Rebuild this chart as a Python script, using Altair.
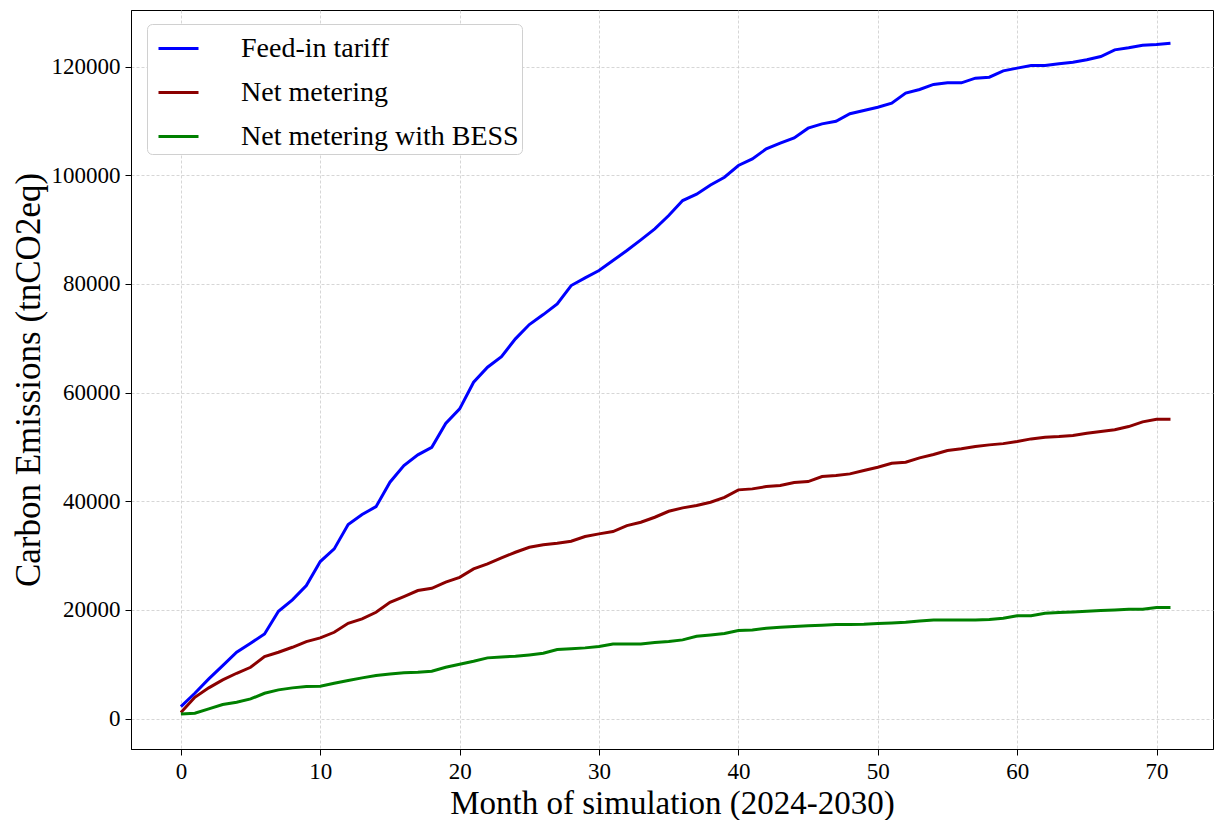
import altair as alt
import pandas as pd

# Cumulative carbon emissions per month of simulation, by compensation scheme
months = list(range(72))

feed_in_tariff = [
    2200, 4660, 7300, 9750, 12200, 13870, 15580, 19750, 21840, 24480,
    28900, 31230, 35700, 37550, 39000, 43500, 46560, 48530, 49930, 54300,
    57000, 61900, 64660, 66620, 69880, 72510, 74350, 76320, 79690, 81110,
    82450, 84300, 86130, 88100, 90130, 92580, 95340, 96500, 98200, 99630,
    101780, 103000, 104850, 105900, 106870, 108650, 109450, 109930, 111300, 111900,
    112500, 113250, 115100, 115770, 116700, 117000, 117000, 117850, 118030, 119200,
    119700, 120180, 120180, 120490, 120800, 121230, 121840, 123070, 123440, 123920,
    124050, 124290,
]

net_metering = [
    1100, 3920, 5650, 7120, 8340, 9440, 11410, 12200, 13120, 14170,
    14850, 15880, 17540, 18350, 19560, 21400, 22450, 23560, 23980, 25100,
    26000, 27550, 28470, 29570, 30610, 31530, 31970, 32270, 32630, 33500,
    33990, 34420, 35520, 36130, 37050, 38150, 38780, 39200, 39810, 40700,
    42090, 42270, 42700, 42880, 43430, 43620, 44540, 44720, 45030, 45640,
    46250, 46990, 47170, 47980, 48590, 49330, 49640, 50060, 50370, 50600,
    51000, 51470, 51780, 51900, 52090, 52510, 52820, 53140, 53740, 54600,
    55090, 55090,
]

net_metering_bess = [
    860, 980, 1780, 2580, 3000, 3620, 4660, 5280, 5650, 5890,
    5950, 6500, 6990, 7490, 7910, 8220, 8410, 8530, 8710, 9450,
    10000, 10550, 11170, 11350, 11470, 11720, 12020, 12700, 12830, 13010,
    13250, 13740, 13740, 13740, 13990, 14170, 14480, 15150, 15400, 15640,
    16220, 16320, 16620, 16800, 16930, 17060, 17180, 17300, 17300, 17360,
    17480, 17600, 17730, 17970, 18160, 18160, 18160, 18160, 18250, 18460,
    18930, 18930, 19380, 19500, 19630, 19750, 19870, 20000, 20120, 20120,
    20460, 20460,
]

series_names = ["Feed-in tariff", "Net metering", "Net metering with BESS"]
series_colors = ["#0000ff", "#8b0000", "#008000"]
x_ticks = [0, 10, 20, 30, 40, 50, 60, 70]
y_ticks = [0, 20000, 40000, 60000, 80000, 100000, 120000]

frames = []
for name, vals in zip(series_names, [feed_in_tariff, net_metering, net_metering_bess]):
    frames.append(pd.DataFrame({"month": months, "value": vals, "series": name}))
df = pd.concat(frames, ignore_index=True)

FONT = "Liberation Serif"

chart = (
    alt.Chart(df)
    .mark_line(strokeWidth=3, clip=True)
    .encode(
        x=alt.X(
            "month:Q",
            scale=alt.Scale(domain=[-3.58, 74.05], nice=False, zero=False),
            axis=alt.Axis(values=x_ticks, title="Month of simulation (2024-2030)",
                          titleFontSize=33, titleY=54, titleBaseline="middle"),
        ),
        y=alt.Y(
            "value:Q",
            scale=alt.Scale(domain=[-5600, 130400], nice=False, zero=False),
            axis=alt.Axis(values=y_ticks, format="d", title="Carbon Emissions (tnCO2eq)",
                          titleFontSize=35, titleX=-103, titleBaseline="middle"),
        ),
        color=alt.Color(
            "series:N",
            scale=alt.Scale(domain=series_names, range=series_colors),
            legend=alt.Legend(
                title=None,
                orient="none",
                legendX=16,
                legendY=14,
                symbolType="stroke",
                symbolSize=1600,
                symbolStrokeWidth=3,
                symbolOffset=7,
                rowPadding=8,
                labelOffset=41,
                labelFont=FONT,
                labelFontSize=28,
                labelColor="black",
                labelLimit=400,
                padding=3,
                strokeColor="#d0d0d0",
                fillColor="white",
                cornerRadius=5,
            ),
        ),
        detail="series:N",
    )
    .properties(
        width=1082,
        height=739,
        autosize=alt.AutoSizeParams(type="none"),
        padding={"left": 131, "top": 10, "right": 2, "bottom": 71},
    )
    .configure_view(stroke="black", strokeWidth=1)
    .configure_axis(
        labelFont=FONT,
        labelFontSize=23,
        labelColor="black",
        titleFont=FONT,
        titleFontWeight="normal",
        titleColor="black",
        tickColor="black",
        tickSize=6,
        labelPadding=5,
        domainColor="black",
        gridColor="#cccccc",
        gridDash=[3, 2],
        gridWidth=0.8,
    )
)

chart.save("out.html", embed_options={"renderer": "svg", "actions": False})
